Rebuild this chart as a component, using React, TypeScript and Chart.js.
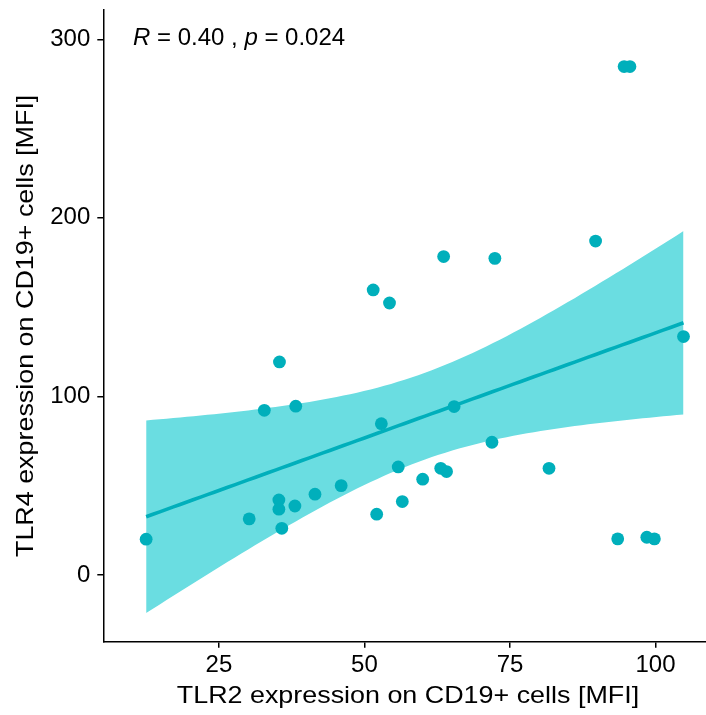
import React, { useEffect, useRef } from "react";
import { Chart, registerables } from "chart.js";

Chart.register(...registerables);

// TLR2 (x) and TLR4 (y) expression on CD19+ cells [MFI]
const tlr2 = [12.5, 30.2, 32.8, 35.4, 35.3, 35.3, 35.8, 38.2, 38.05, 41.5, 46.0, 51.5, 52.1, 52.9, 54.3, 55.8, 56.5, 60.0, 63.1, 64.1, 63.6, 65.4, 71.9, 72.4, 81.7, 89.7, 93.5, 94.6, 95.6, 98.5, 99.8, 104.8];
const tlr4 = [20.0, 31.4, 92.2, 119.3, 42.0, 36.8, 26.1, 94.5, 38.6, 45.2, 50.0, 159.6, 34.0, 84.7, 152.3, 60.5, 41.1, 53.6, 59.7, 57.9, 178.3, 94.3, 74.3, 177.3, 59.7, 187.0, 20.2, 284.7, 284.7, 21.1, 20.2, 133.5];

const xTicks = [25, 50, 75, 100];
const yTicks = [0, 100, 200, 300];
const xTitle = "TLR2 expression on CD19+ cells [MFI]";
const yTitle = "TLR4 expression on CD19+ cells [MFI]";
const statR = "0.40";
const statP = "0.024";

const T_CRIT = 2.042; // t(0.975, df = 30)
const FAMILY = "'Liberation Sans', Arial, sans-serif";
const PT = "#00AFBB";
const BAND = "#6ADDE1";
const TITLE_STRETCH = 1.12;

function fitModel(xs: number[], ys: number[]) {
  const n = xs.length;
  const xbar = xs.reduce((a, b) => a + b, 0) / n;
  const ybar = ys.reduce((a, b) => a + b, 0) / n;
  let sxx = 0, sxy = 0;
  for (let i = 0; i < n; i++) {
    sxx += (xs[i] - xbar) ** 2;
    sxy += (xs[i] - xbar) * (ys[i] - ybar);
  }
  const b = sxy / sxx;
  const a = ybar - b * xbar;
  let sse = 0;
  for (let i = 0; i < n; i++) sse += (ys[i] - a - b * xs[i]) ** 2;
  const s = Math.sqrt(sse / (n - 2));
  const lo = Math.min(...xs), hi = Math.max(...xs);
  const grid: number[] = [];
  for (let k = 0; k < 80; k++) grid.push(lo + ((hi - lo) * k) / 79);
  const fit = grid.map((x) => ({ x, y: a + b * x }));
  const upper = grid.map((x) => {
    const se = s * Math.sqrt(1 / n + (x - xbar) ** 2 / sxx);
    return { x, y: a + b * x + T_CRIT * se };
  });
  const lower = grid.map((x) => {
    const se = s * Math.sqrt(1 / n + (x - xbar) ** 2 / sxx);
    return { x, y: a + b * x - T_CRIT * se };
  });
  return { fit, upper, lower };
}

const textPlugin = {
  id: "textLabels",
  afterDraw(chart: any) {
    const ctx = chart.ctx;
    const area = chart.chartArea;
    ctx.save();
    ctx.fillStyle = "#000";
    ctx.textBaseline = "alphabetic";
    ctx.textAlign = "left";
    // statistics label
    let x = 133;
    const y = 45;
    const parts: [string, boolean][] = [
      ["R", true],
      [" = " + statR + " , ", false],
      ["p", true],
      [" = " + statP, false],
    ];
    for (const [txt, it] of parts) {
      ctx.font = (it ? "italic " : "") + "24px " + FAMILY;
      ctx.fillText(txt, x, y);
      x += ctx.measureText(txt).width;
    }
    // axis titles
    ctx.font = "24px " + FAMILY;
    ctx.textAlign = "center";
    ctx.save();
    ctx.translate((area.left + area.right) / 2, 703);
    ctx.scale(TITLE_STRETCH, 1);
    ctx.fillText(xTitle, 0, 0);
    ctx.restore();
    ctx.save();
    ctx.translate(33, (area.top + area.bottom) / 2);
    ctx.rotate(-Math.PI / 2);
    ctx.scale(TITLE_STRETCH, 1);
    ctx.fillText(yTitle, 0, 0);
    ctx.restore();
    ctx.restore();
  },
};

export default function App() {
  const ref = useRef<HTMLCanvasElement | null>(null);
  useEffect(() => {
    if (!ref.current) return;
    const { fit, upper, lower } = fitModel(tlr2, tlr4);
    const points = tlr2.map((x, i) => ({ x, y: tlr4[i] }));
    const axisCommon = {
      type: "linear" as const,
      grid: {
        drawOnChartArea: false,
        drawTicks: true,
        tickLength: 6,
        color: "#000",
        lineWidth: 1.5,
      },
      border: { display: true, color: "#000", width: 1.5 },
    };
    const chart = new Chart(ref.current, {
      type: "scatter",
      data: {
        datasets: [
          {
            data: points,
            backgroundColor: PT,
            borderWidth: 0,
            pointRadius: 6.4,
            pointHoverRadius: 6.4,
          },
          {
            data: fit,
            showLine: true,
            borderColor: PT,
            borderWidth: 3.6,
            pointRadius: 0,
            fill: false,
          },
          {
            data: upper,
            showLine: true,
            borderWidth: 0,
            borderColor: "rgba(0,0,0,0)",
            pointRadius: 0,
            backgroundColor: BAND,
            fill: "+1",
          },
          {
            data: lower,
            showLine: true,
            borderWidth: 0,
            borderColor: "rgba(0,0,0,0)",
            pointRadius: 0,
            fill: false,
          },
        ],
      },
      options: {
        animation: false,
        responsive: false,
        devicePixelRatio: 1,
        layout: { padding: { top: 10, right: 0, left: 0, bottom: 0 } },
        plugins: { legend: { display: false }, tooltip: { enabled: false } },
        scales: {
          x: {
            ...axisCommon,
            min: 5.14,
            max: 109.8,
            afterBuildTicks: (s: any) => {
              s.ticks = xTicks.map((v) => ({ value: v }));
            },
            afterFit: (s: any) => {
              s.height = 73.3;
              s.paddingLeft = 0;
              s.paddingRight = 0;
            },
            ticks: {
              color: "#000",
              font: { family: FAMILY, size: 24 },
              padding: 3,
              maxRotation: 0,
              autoSkip: false,
            },
            title: { display: false },
          },
          y: {
            ...axisCommon,
            min: -37.4,
            max: 316.4,
            afterBuildTicks: (s: any) => {
              s.ticks = yTicks.map((v) => ({ value: v }));
            },
            afterFit: (s: any) => {
              s.width = 103.3;
              s.paddingTop = 0;
              s.paddingBottom = 0;
            },
            ticks: {
              color: "#000",
              font: { family: FAMILY, size: 24 },
              padding: 7,
              autoSkip: false,
            },
            title: { display: false },
          },
        },
      },
      plugins: [textPlugin],
    });
    return () => chart.destroy();
  }, []);
  return (
    <div
      style={{
        position: "fixed",
        left: 0,
        top: 0,
        width: 706,
        height: 715,
        overflow: "hidden",
        background: "#fff",
      }}
    >
      <canvas ref={ref} width={719} height={715} style={{ display: "block" }} />
    </div>
  );
}
